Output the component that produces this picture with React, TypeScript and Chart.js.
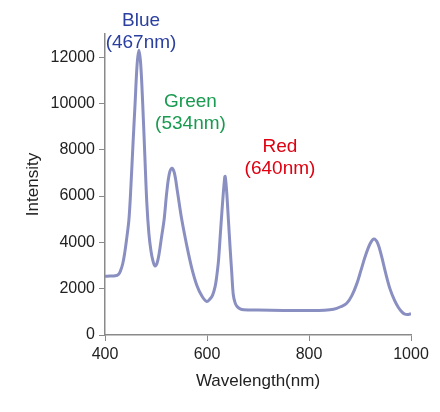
import React, { useEffect, useRef } from "react";
import { Chart, registerables } from "chart.js";

Chart.register(...registerables);

// Wavelength (nm) and intensity
const wavelengths = [
  400, 410, 420, 426, 430, 435, 439, 443, 447, 451, 455, 459, 463, 466.5, 470, 474, 478, 482, 486,
  490, 494, 498, 502, 506, 511, 516, 521, 526, 531, 536, 542, 550, 560, 570, 580, 590, 599, 606,
  611, 616, 619, 622.5, 626, 629.5, 633, 635.5, 638.5, 642, 645.5, 648.5, 651.5, 655, 659, 665,
  672, 700, 750, 800, 830, 848, 862, 874, 884, 894, 902, 910, 920, 927.5, 935, 942.5, 950, 959,
  968, 975, 982, 988, 995, 1000,
];
const intensities = [
  2540, 2545, 2560, 2610, 2750, 3100, 3600, 4250, 5000, 6500, 8300, 10000, 11700, 12300, 11700, 9950, 7800, 5700, 4400,
  3650, 3200, 2980, 3100, 3500, 4250, 5000, 6150, 6950, 7200, 7000, 6200, 5050, 3900, 2900, 2150, 1680, 1450, 1560,
  1725, 2100, 2520, 3200, 4300, 5400, 6400, 6850, 6200, 4960, 3700, 2700, 1750, 1400, 1230, 1130,
  1090, 1075, 1060, 1060, 1070, 1110, 1220, 1370, 1700, 2230, 2800, 3380, 3950, 4150, 3950, 3380, 2700, 1980,
  1480, 1200, 1000, 900, 890, 920,
];

const xTicks = [400, 600, 800, 1000];
const yTicks = [0, 2000, 4000, 6000, 8000, 10000, 12000];

const peakLabels = ["Blue", "Green", "Red"];
const peakSubLabels = ["(467nm)", "(534nm)", "(640nm)"];
const peakLabelX = [470.6, 567.6, 743.1];
const peakLabelY = [13351, 9855, 7912];
const peakColors = ["#2a3f9f", "#1a9a50", "#e00010"];

const labelPlugin = {
  id: "peakLabels",
  afterDraw(chart: any) {
    const { ctx, scales } = chart;
    ctx.save();
    ctx.font = "19px 'Liberation Sans', Arial, sans-serif";
    ctx.textAlign = "center";
    ctx.textBaseline = "alphabetic";
    peakLabels.forEach((t, i) => {
      const px = scales.x.getPixelForValue(peakLabelX[i]);
      const py = scales.y.getPixelForValue(peakLabelY[i]);
      ctx.fillStyle = peakColors[i];
      ctx.fillText(t, px, py);
      ctx.fillText(peakSubLabels[i], px, py + 22);
    });
    ctx.restore();
  },
};

export default function App() {
  const ref = useRef<HTMLCanvasElement>(null);
  useEffect(() => {
    if (!ref.current) return;
    const axisColor = "#8a8a8a";
    const tickFont = { family: "'Liberation Sans', Arial, sans-serif", size: 16 };
    const titleFont = { family: "'Liberation Sans', Arial, sans-serif", size: 17 };
    const chart = new Chart(ref.current, {
      type: "line",
      data: {
        datasets: [
          {
            data: wavelengths.map((w, i) => ({ x: w, y: intensities[i] })),
            borderColor: "#8a8fc2",
            borderWidth: 3,
            pointRadius: 0,
            tension: 0.35,
            fill: false,
          },
        ],
      },
      options: {
        animation: false,
        responsive: false,
        maintainAspectRatio: false,
        layout: { padding: { left: 19, right: 29, top: 34, bottom: 17 } },
        plugins: { legend: { display: false }, tooltip: { enabled: false } },
        scales: {
          x: {
            type: "linear",
            min: 400,
            max: 1000,
            afterBuildTicks: (s: any) => {
              s.ticks = xTicks.map((v) => ({ value: v }));
            },
            afterFit: (s: any) => {
              s.height = 60;
            },
            ticks: { color: "#222", font: tickFont, padding: 4, maxRotation: 0, callback: (v: any) => String(v) },
            grid: { drawOnChartArea: false, drawTicks: true, tickLength: 6, color: axisColor },
            border: { display: true, color: axisColor, width: 1.5 },
            title: { display: true, text: "Wavelength(nm)", color: "#222", font: titleFont, padding: { top: 4, bottom: 3 } },
          },
          y: {
            type: "linear",
            min: 0,
            max: 13000,
            afterBuildTicks: (s: any) => {
              s.ticks = yTicks.map((v) => ({ value: v }));
            },
            afterFit: (s: any) => {
              s.width = 86;
            },
            ticks: { color: "#222", font: tickFont, padding: 4, callback: (v: any) => String(v) },
            grid: { drawOnChartArea: false, drawTicks: true, tickLength: 6, color: axisColor },
            border: { display: true, color: axisColor, width: 1.5 },
            title: { display: true, text: "Intensity", color: "#222", font: titleFont, padding: { top: 4, bottom: 4 } },
          },
        },
      },
      plugins: [labelPlugin],
    } as any);
    return () => chart.destroy();
  }, []);
  return (
    <div style={{ position: "absolute", left: 0, top: 0, width: 440, height: 412, background: "#fff" }}>
      <canvas ref={ref} width={440} height={412} style={{ width: 440, height: 412 }} />
    </div>
  );
}
